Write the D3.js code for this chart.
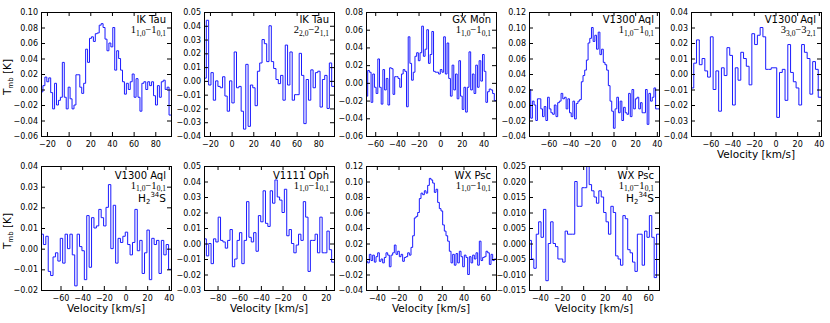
<!DOCTYPE html>
<html lang="en">
<head>
  <meta charset="UTF-8">
  <title>H2S spectra</title>
  <style>
    body { margin: 0; background: #fff; }
    svg { display: block; font-family: "DejaVu Sans", sans-serif; }
    .tick text { font-size: 8px; fill: #000; font-family: "DejaVu Sans", sans-serif; }
    .tick line { stroke: #000; stroke-width: 1; }
    .frame { fill: none; stroke: #000; stroke-width: 1; }
    .spec { fill: none; stroke: #1a1aff; stroke-width: 1; }
    .name { font-size: 10px; }
    .iso { font-size: 10.5px; }
    .trans { font-size: 10.5px; font-family: "Liberation Serif", serif; }
    .label { font-size: 10.5px; }
  </style>
</head>
<body>
  <svg width="830" height="323"></svg>

  <script src="https://d3js.org/d3.v7.min.js"></script>
  <script>
    // spectra (T_mb in K), one value per channel
    const ikTau110 = [-0.003, 0.005, 0.016, 0.010, 0.015, -0.004, -0.025, 0.008, -0.020, -0.014,
      -0.010, 0.035, -0.010, -0.025, 0.003, -0.012, -0.025, -0.020, 0.019, 0.019,
      0.003, -0.005, 0.008, 0.052, 0.035, 0.066, 0.068, 0.062, 0.072, 0.073,
      0.083, 0.085, 0.080, 0.065, 0.050, 0.060, 0.055, 0.080, 0.025, 0.050,
      0.040, 0.025, 0.010, -0.006, 0.008, 0.000, 0.010, 0.020, -0.010, 0.014,
      -0.010, -0.028, 0.008, 0.010, 0.000, 0.010, 0.005, 0.010, -0.008, -0.020,
      0.005, -0.010, 0.010, 0.012, 0.000, 0.003, -0.033];
    const ikTau220 = [0.002, 0.044, -0.003, 0.006, -0.014, 0.000, -0.004, -0.005, 0.003, -0.011,
      -0.022, 0.000, -0.016, 0.021, -0.005, -0.004, -0.022, -0.035, 0.012, -0.033,
      -0.003, -0.005, -0.018, 0.007, 0.013, 0.030, 0.027, 0.014, 0.040, 0.014,
      0.009, 0.001, -0.002, 0.004, -0.014, 0.026, -0.003, 0.021, -0.014, -0.010,
      -0.010, 0.020, 0.004, -0.031, 0.001, -0.014, 0.008, -0.005, 0.006, 0.007,
      -0.019, 0.001, 0.004, -0.020, 0.013, -0.004];
    const gxMon110 = [-0.015, 0.014, 0.012, -0.022, 0.010, -0.005, -0.012, 0.027, -0.005, -0.024,
      0.015, -0.008, 0.005, -0.025, 0.017, 0.016, -0.013, 0.007, 0.007, 0.005,
      -0.005, 0.010, 0.015, 0.013, -0.027, 0.052, 0.022, 0.003, 0.012, 0.030,
      0.034, 0.025, 0.034, 0.064, 0.030, 0.038, 0.060, 0.022, 0.032, 0.058,
      0.013, 0.012, 0.012, 0.010, 0.015, 0.012, 0.052, 0.010, 0.045, 0.005,
      -0.015, 0.020, -0.008, 0.010, -0.018, 0.025, -0.015, -0.030, -0.005, -0.033,
      -0.005, 0.035, -0.008, 0.010, -0.012, 0.020, -0.005, 0.025, 0.002, 0.032,
      0.013, -0.022, -0.010, -0.007, -0.008, -0.012, -0.020];
    const v1300Aql110 = [0.020, -0.017, 0.005, 0.000, -0.020, 0.008, 0.008, -0.005, -0.015, -0.002,
      -0.020, 0.010, -0.005, -0.010, -0.012, 0.000, -0.015, 0.003, 0.005, 0.015,
      0.008, 0.010, -0.005, 0.008, -0.010, -0.015, 0.005, -0.018, 0.002, 0.005,
      0.007, 0.030, 0.038, 0.045, 0.058, 0.080, 0.086, 0.100, 0.082, 0.090,
      0.072, 0.094, 0.065, 0.072, 0.055, 0.052, 0.045, 0.025, 0.005, -0.008,
      -0.030, -0.005, 0.010, -0.010, 0.005, -0.020, -0.003, -0.010, -0.012, 0.015,
      -0.015, 0.020, -0.005, 0.008, 0.010, -0.005, 0.003, -0.010, -0.010, 0.020,
      -0.025, 0.015, 0.005, 0.010, 0.022, -0.005, -0.005];
    const v1300Aql330 = [-0.009, 0.007, 0.022, 0.006, 0.010, 0.002, -0.002, 0.024, -0.010, 0.002,
      -0.024, 0.004, -0.001, 0.017, 0.012, -0.020, 0.004, -0.004, 0.014, 0.010,
      0.005, -0.007, 0.026, 0.019, 0.025, 0.030, 0.024, 0.003, 0.003, 0.004,
      0.004, -0.028, 0.001, 0.003, -0.017, 0.019, 0.001, -0.005, -0.009, -0.020,
      0.019, 0.014, 0.010, -0.013, 0.008, 0.003, -0.015];
    const v1300Aql34S = [0.007, 0.002, 0.006, -0.011, -0.013, -0.004, -0.002, -0.006, 0.005, -0.007,
      0.007, 0.000, 0.007, -0.003, -0.018, 0.007, 0.001, -0.001, -0.015, 0.016,
      -0.009, 0.015, 0.010, 0.011, 0.019, 0.015, 0.011, 0.020, 0.031, 0.000,
      0.021, -0.007, 0.005, 0.003, 0.006, 0.008, 0.002, -0.003, 0.003, 0.019,
      -0.001, 0.004, -0.012, -0.002, 0.009, -0.015, 0.005, 0.002, 0.004, -0.012,
      0.004, -0.003, 0.002, -0.010];
    const v1111Oph110 = [0.003, -0.008, 0.000, -0.013, 0.003, 0.001, 0.017, 0.002, 0.001, -0.003,
      0.002, 0.009, -0.015, -0.010, 0.002, 0.007, -0.013, 0.002, 0.027, 0.004,
      0.001, 0.007, -0.005, 0.018, 0.014, 0.034, 0.013, 0.011, 0.034, 0.026,
      0.041, 0.030, 0.028, 0.020, 0.035, 0.005, 0.009, 0.000, -0.006, -0.001,
      0.006, 0.002, 0.027, 0.017, -0.018, 0.002, 0.002, 0.006, -0.006, 0.017,
      -0.006, -0.006, 0.008, -0.004, -0.012];
    const wxPsc110 = [-0.003, -0.005, 0.006, -0.002, 0.005, -0.004, 0.003, 0.008, -0.003, 0.000,
      -0.005, 0.002, 0.008, 0.005, -0.010, 0.005, 0.008, 0.018, 0.006, 0.010,
      0.003, 0.006, -0.003, 0.002, 0.003, 0.008, 0.005, 0.015, 0.030, 0.053,
      0.055, 0.060, 0.078, 0.085, 0.083, 0.088, 0.085, 0.095, 0.104, 0.102,
      0.098, 0.086, 0.090, 0.073, 0.065, 0.062, 0.044, 0.036, 0.030, 0.023,
      0.010, -0.005, 0.006, -0.008, 0.007, -0.005, 0.010, 0.003, -0.010, 0.005,
      0.002, -0.020, 0.003, -0.005, 0.005, 0.000, 0.008, -0.008, 0.023, -0.002,
      0.002, 0.003, 0.010, 0.008, -0.007, 0.006, -0.002, 0.000];
    const wxPsc34S = [0.001, -0.005, -0.008, 0.003, 0.007, 0.002, 0.011, -0.012, 0.000, 0.007,
      0.000, -0.001, -0.005, -0.005, -0.006, 0.004, 0.003, 0.003, 0.003, 0.020,
      0.012, 0.012, 0.018, 0.018, 0.025, 0.019, 0.017, 0.015, 0.013, 0.017,
      0.015, 0.010, 0.007, 0.003, 0.012, 0.010, -0.004, -0.005, -0.007, 0.009,
      0.008, -0.002, -0.003, -0.006, -0.009, 0.003, 0.003, -0.007, 0.004, 0.002,
      0.009, 0.002, -0.011, 0.003];

    const spectra = [ikTau110, ikTau220, gxMon110, v1300Aql110, v1300Aql330,
                     v1300Aql34S, v1111Oph110, wxPsc110, wxPsc34S];
    const sourceNames = ["IK Tau", "IK Tau", "GX Mon", "V1300 Aql", "V1300 Aql",
                         "V1300 Aql", "V1111 Oph", "WX Psc", "WX Psc"];
    // J_{Ka,Kc} upper, lower
    const transitions = [["1", "1,0", "1", "0,1"], ["2", "2,0", "2", "1,1"], ["1", "1,0", "1", "0,1"],
                         ["1", "1,0", "1", "0,1"], ["3", "3,0", "3", "2,1"], ["1", "1,0", "1", "0,1"],
                         ["1", "1,0", "1", "0,1"], ["1", "1,0", "1", "0,1"], ["1", "1,0", "1", "0,1"]];
    const isotopologue = [false, false, false, false, false, true, false, false, true];
    const velocityLimits = [[-25.5, 94.5], [-25.5, 94.5], [-68.5, 51.5], [-78, 42], [-78, 42],
                            [-78, 42], [-92.5, 27.5], [-50, 70], [-50, 70]];
    const intensityLimits = [[-0.06, 0.10], [-0.04, 0.05], [-0.06, 0.08], [-0.04, 0.12], [-0.04, 0.04],
                             [-0.02, 0.04], [-0.03, 0.05], [-0.04, 0.12], [-0.015, 0.025]];
    const xTickLists = [[-20, 0, 20, 40, 60, 80], [-20, 0, 20, 40, 60, 80], [-60, -40, -20, 0, 20, 40],
                        [-60, -40, -20, 0, 20, 40], [-60, -40, -20, 0, 20, 40], [-60, -40, -20, 0, 20, 40],
                        [-80, -60, -40, -20, 0, 20], [-40, -20, 0, 20, 40, 60], [-40, -20, 0, 20, 40, 60]];
    const yTickLists = [
      [-0.06, -0.04, -0.02, 0, 0.02, 0.04, 0.06, 0.08, 0.10],
      [-0.04, -0.03, -0.02, -0.01, 0, 0.01, 0.02, 0.03, 0.04, 0.05],
      [-0.06, -0.04, -0.02, 0, 0.02, 0.04, 0.06, 0.08],
      [-0.04, -0.02, 0, 0.02, 0.04, 0.06, 0.08, 0.10, 0.12],
      [-0.04, -0.03, -0.02, -0.01, 0, 0.01, 0.02, 0.03, 0.04],
      [-0.02, -0.01, 0, 0.01, 0.02, 0.03, 0.04],
      [-0.03, -0.02, -0.01, 0, 0.01, 0.02, 0.03, 0.04, 0.05],
      [-0.04, -0.02, 0, 0.02, 0.04, 0.06, 0.08, 0.10, 0.12],
      [-0.015, -0.010, -0.005, 0, 0.005, 0.010, 0.015, 0.020, 0.025]];
    const yTickDecimals = [2, 2, 2, 2, 2, 2, 2, 2, 3];

    const svg = d3.select("svg");
    const W = 130, H = 124;
    const colLeft = [41, 204, 366, 529, 691];
    const rowTop = [12, 166];

    spectra.forEach((vals, k) => {
      const row = k < 5 ? 0 : 1, col = k < 5 ? k : k - 5;
      const g = svg.append("g").attr("transform", `translate(${colLeft[col]},${rowTop[row]})`);

      const x = d3.scaleLinear().domain(velocityLimits[k]).range([0, W]);
      const y = d3.scaleLinear().domain(intensityLimits[k]).range([H, 0]);

      // channel grid: spectrum spans the plotted velocity window
      const [v0, v1] = velocityLimits[k];
      const dv = (v1 - v0) / vals.length;
      const pts = vals.map((t, i) => [v0 + i * dv, t]);
      pts.push([v1, vals[vals.length - 1]]);

      g.append("clipPath").attr("id", "clip" + k)
        .append("rect").attr("width", W).attr("height", H);

      g.append("path")
        .attr("class", "spec")
        .attr("clip-path", `url(#clip${k})`)
        .attr("d", d3.line().x(d => x(d[0])).y(d => y(d[1])).curve(d3.curveStepAfter)(pts));

      // inward ticks on all four sides
      g.append("g").attr("transform", `translate(0,${H})`)
        .call(d3.axisBottom(x).tickValues(xTickLists[k]).tickSize(-4).tickPadding(5).tickFormat(d3.format("d")))
        .call(a => a.select(".domain").remove());
      g.append("g")
        .call(d3.axisTop(x).tickValues(xTickLists[k]).tickSize(-4).tickFormat(""))
        .call(a => a.select(".domain").remove());
      g.append("g")
        .call(d3.axisLeft(y).tickValues(yTickLists[k]).tickSize(-4).tickPadding(3)
          .tickFormat(d3.format("." + yTickDecimals[k] + "f")))
        .call(a => a.select(".domain").remove());
      g.append("g").attr("transform", `translate(${W},0)`)
        .call(d3.axisRight(y).tickValues(yTickLists[k]).tickSize(-4).tickFormat(""))
        .call(a => a.select(".domain").remove());

      g.append("rect").attr("class", "frame")
        .attr("x", 0.5).attr("y", 0.5).attr("width", W).attr("height", H);

      // labels, top right
      g.append("text").attr("class", "name")
        .attr("x", W - 5).attr("y", row === 0 ? 10.5 : 12.5)
        .attr("text-anchor", "end").text(sourceNames[k]);

      const tr = transitions[k];
      const tt = g.append("text").attr("class", "trans")
        .attr("x", W - 5).attr("y", row === 0 ? 21 : 22.5).attr("text-anchor", "end");
      tt.append("tspan").text(tr[0]);
      tt.append("tspan").attr("dy", 2.5).style("font-size", "7.5px").text(tr[1]);
      tt.append("tspan").attr("dy", -2.5).text("\u2212" + tr[2]);
      tt.append("tspan").attr("dy", 2.5).style("font-size", "7.5px").text(tr[3]);

      if (isotopologue[k]) {
        const it = g.append("text").attr("class", "iso")
          .attr("x", W - 5).attr("y", 35.5).attr("text-anchor", "end");
        it.append("tspan").text("H");
        it.append("tspan").attr("dy", 2).style("font-size", "7px").text("2");
        it.append("tspan").attr("dy", -6.5).style("font-size", "7px").text("34");
        it.append("tspan").attr("dy", 4.5).text("S");
      }

      if (col === 0) {
        const yl = g.append("text").attr("class", "label")
          .attr("transform", `translate(-30,${H / 2 + 3}) rotate(-90)`)
          .attr("text-anchor", "middle");
        yl.append("tspan").text("T");
        yl.append("tspan").attr("dy", 2).style("font-size", "7px").text("mb");
        yl.append("tspan").attr("dy", -2).text(" [K]");
      }

      if (row === 1 || col === 4) {
        g.append("text").attr("class", "label")
          .attr("x", W / 2).attr("y", H + 22)
          .attr("text-anchor", "middle").text("Velocity [km/s]");
      }
    });
  </script>
</body>
</html>
